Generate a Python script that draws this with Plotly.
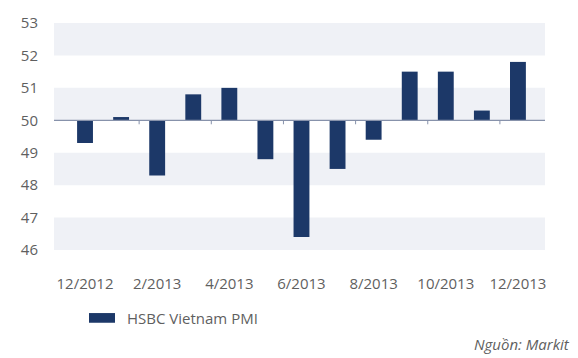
import plotly.graph_objects as go

# HSBC Vietnam PMI, monthly
months = ["12/2012", "1/2013", "2/2013", "3/2013", "4/2013", "5/2013", "6/2013",
          "7/2013", "8/2013", "9/2013", "10/2013", "11/2013", "12/2013"]
pmi = [49.3, 50.1, 48.3, 50.8, 51.0, 48.8, 46.4, 48.5, 49.4, 51.5, 51.5, 50.3, 51.8]
baseline = 50
y_ticks = [46, 47, 48, 49, 50, 51, 52, 53]
x_tick_labels = months[::2]
series_name = "HSBC Vietnam PMI"
source_text = "Nguồn: Markit"

BAR_COLOR = "#1c3868"
BAND_COLOR = "#eff1f6"
TEXT_COLOR = "#5f5f5f"
AXIS_COLOR = "#8792ab"
FONT = "Open Sans"

fig = go.Figure()
fig.add_trace(go.Bar(
    x=months,
    y=[v - baseline for v in pmi],
    base=baseline,
    width=0.44,
    marker=dict(color=BAR_COLOR, line=dict(width=0)),
    name=series_name,
    showlegend=False,
))

shapes = []
# alternating horizontal bands
for lo in y_ticks[:-1:2]:
    shapes.append(dict(type="rect", xref="paper", yref="y", x0=0, x1=1,
                       y0=lo, y1=lo + 1, fillcolor=BAND_COLOR,
                       line=dict(width=0), layer="below"))
# baseline axis line
shapes.append(dict(type="line", xref="paper", yref="y", x0=0, x1=1,
                   y0=baseline, y1=baseline, line=dict(color=AXIS_COLOR, width=1.2)))
# small ticks on the baseline between every second pair of bars
for i in range(1, len(months) - 1, 2):
    shapes.append(dict(type="line", xref="x", yref="y", ysizemode="pixel",
                       yanchor=baseline, x0=i + 0.5, x1=i + 0.5, y0=0, y1=-4,
                       line=dict(color=AXIS_COLOR, width=1)))
# legend swatch
shapes.append(dict(type="rect", xref="paper", yref="paper",
                   x0=(89 - 54) / 491, x1=(115 - 54) / 491,
                   y0=(250 - 325) / 234, y1=(250 - 315) / 234,
                   fillcolor=BAR_COLOR, line=dict(width=0)))

annotations = [
    dict(text=series_name, xref="paper", yref="paper",
         x=(125 - 54) / 491, y=(250 - 320) / 234, xanchor="left", yanchor="middle",
         showarrow=False, font=dict(family=FONT, size=15, color=TEXT_COLOR)),
    dict(text="<i>" + source_text + "</i>", xref="paper", yref="paper",
         x=(572 - 54) / 491, y=(250 - 347) / 234, xanchor="right", yanchor="middle",
         showarrow=False, font=dict(family=FONT, size=15, color=TEXT_COLOR)),
]

fig.update_layout(
    width=578, height=358,
    margin=dict(l=54, r=33, t=16, b=108),
    paper_bgcolor="white", plot_bgcolor="white",
    font=dict(family=FONT, size=15, color=TEXT_COLOR),
    shapes=shapes, annotations=annotations,
    showlegend=False,
    bargap=0.56,
)
fig.update_xaxes(
    type="category",
    range=[-0.86, len(months) - 0.25],
    tickvals=x_tick_labels, ticktext=x_tick_labels,
    showgrid=False, zeroline=False, showline=False, ticks="",
    ticklabelstandoff=23,
    tickfont=dict(family=FONT, size=15, color=TEXT_COLOR),
)
fig.update_yaxes(
    range=[y_ticks[0], y_ticks[-1]],
    tickvals=y_ticks,
    showgrid=False, zeroline=False, showline=False, ticks="",
    ticklabelstandoff=15,
    tickfont=dict(family=FONT, size=15, color=TEXT_COLOR),
)

fig.write_html("out.html")
